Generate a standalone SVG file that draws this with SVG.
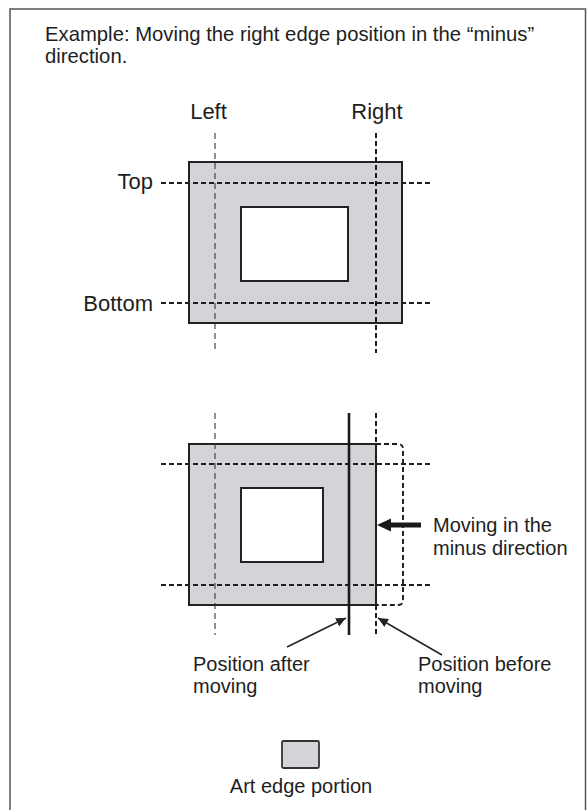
<svg xmlns="http://www.w3.org/2000/svg" width="587" height="810" viewBox="0 0 587 810">
  <defs>
    <style>
      .txt { font-family: "Liberation Sans", Arial, sans-serif; fill: #1e1e1e; }
      .t20 { font-size: 20px; }
      .tt { font-size: 20.3px; }
      .t22 { font-size: 22px; }
      .art { fill: #d2d4d8; stroke: #222; stroke-width: 2; }
      .hole { fill: #ffffff; stroke: #222; stroke-width: 2; }
      .dashH { fill: none; stroke: #1e1e1e; stroke-width: 1.9; stroke-dasharray: 5 3; }
      .dashV { fill: none; stroke: #333; stroke-width: 1.1; stroke-dasharray: 6 4; }
      .dashVb { fill: none; stroke: #1e1e1e; stroke-width: 2; stroke-dasharray: 5 3; }
      .solid { fill: none; stroke: #1a1a1a; stroke-width: 2.6; }
      .leader { fill: none; stroke: #222; stroke-width: 1.5; }
    </style>
    <marker id="ah" viewBox="0 0 10 10" refX="10" refY="5" markerWidth="10" markerHeight="10" markerUnits="userSpaceOnUse" orient="auto">
      <path d="M0,0.5 L10,5 L0,9.5 Z" fill="#222"/>
    </marker>
  </defs>

  <rect id="frame" x="10" y="9" width="575.5" height="820" fill="#ffffff" stroke="#555" stroke-width="1.5"/>

  <g id="title">
    <text class="txt tt" x="45" y="41">Example: Moving the right edge position in the “minus”</text>
    <text class="txt tt" x="45" y="63">direction.</text>
  </g>

  <!-- Top diagram -->
  <g id="top-diagram">
    <rect class="art" x="189" y="162" width="213" height="161"/>
    <rect class="hole" x="241" y="207" width="107" height="74"/>
  </g>
  <g id="top-guides">
    <line class="dashH" x1="161" y1="183" x2="430" y2="183"/>
    <line class="dashH" x1="161" y1="303" x2="430" y2="303"/>
    <line class="dashV" x1="215" y1="133" x2="215" y2="353"/>
    <line class="dashVb" x1="376" y1="133" x2="376" y2="353"/>
  </g>
  <g id="top-labels">
    <text class="txt t22" x="208.5" y="119" text-anchor="middle">Left</text>
    <text class="txt t22" x="377" y="119" text-anchor="middle">Right</text>
    <text class="txt t22" x="153" y="189" text-anchor="end">Top</text>
    <text class="txt t22" x="153" y="311" text-anchor="end">Bottom</text>
  </g>

  <!-- Bottom diagram -->
  <g id="bottom-diagram">
    <rect class="art" x="189" y="444" width="187" height="161"/>
    <rect class="hole" x="241" y="488" width="82" height="74"/>
    <path class="dashH" d="M376,444 H398 Q403,444 403,449 V600 Q403,605 398,605 H376"/>
  </g>
  <g id="bottom-guides">
    <line class="dashH" x1="161" y1="464" x2="430" y2="464"/>
    <line class="dashH" x1="161" y1="585" x2="430" y2="585"/>
    <line class="dashV" x1="215" y1="413" x2="215" y2="635"/>
    <line class="dashVb" x1="376" y1="413" x2="376" y2="635"/>
    <line id="after-line" class="solid" x1="349" y1="413" x2="349" y2="635"/>
  </g>

  <g id="connectors">
    <polygon id="move-arrow" points="377,525 391,518.5 391,522.5 421,522.5 421,527.5 391,527.5 391,531.5" fill="#1a1a1a"/>
    <line class="leader" x1="287" y1="647" x2="346" y2="618" marker-end="url(#ah)"/>
    <line class="leader" x1="442" y1="655" x2="378" y2="618" marker-end="url(#ah)"/>
  </g>

  <g id="bottom-labels">
    <text class="txt t20" x="433" y="532">Moving in the</text>
    <text class="txt t20" x="433" y="555">minus direction</text>
    <text class="txt t20" x="193" y="671">Position after</text>
    <text class="txt t20" x="193" y="693">moving</text>
    <text class="txt t20" x="418" y="671">Position before</text>
    <text class="txt t20" x="418" y="693">moving</text>
  </g>

  <g id="legend">
    <rect x="282" y="741" width="37" height="27" rx="1.5" fill="#d2d4d8" stroke="#333" stroke-width="1.8"/>
    <text class="txt t20" x="301" y="793" text-anchor="middle">Art edge portion</text>
  </g>
</svg>
